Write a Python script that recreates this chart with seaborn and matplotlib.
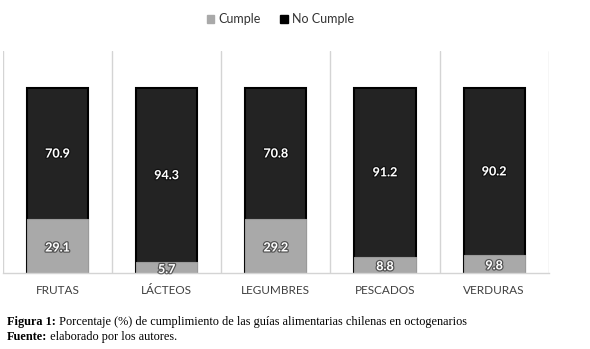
import numpy as np
import pandas as pd
import matplotlib.pyplot as plt
import matplotlib.patheffects as pe
from matplotlib.patches import Patch
import seaborn as sns

# --------------data--------------
categorias = ['FRUTAS', 'LÁCTEOS', 'LEGUMBRES', 'PESCADOS', 'VERDURAS']
cumple = [29.1, 5.7, 29.2, 8.8, 9.8]
no_cumple = [70.9, 94.3, 70.8, 91.2, 90.2]

df = pd.DataFrame({'categoria': categorias, 'cumple': cumple, 'no_cumple': no_cumple})
df['total'] = df['cumple'] + df['no_cumple']

gris = '#a9a9a9'
negro = '#232323'

sns.set_style('white')
plt.rcParams['font.family'] = ['Lato', 'DejaVu Sans']
fig = plt.figure(figsize=(5.9, 3.49), dpi=100)
ax = fig.add_axes([0.005, 0.218, 0.925, 0.636])

# stacked bars: total in black, cumple in grey on top of it
sns.barplot(x='categoria', y='total', data=df, color=negro, width=0.56,
            edgecolor='black', linewidth=1.5, saturation=1, ax=ax)
sns.barplot(x='categoria', y='cumple', data=df, color=gris, width=0.56,
            edgecolor='#9a9a9a', linewidth=0.8, saturation=1, ax=ax)

ax.set_ylim(0, 120)
ax.set_xlim(-0.5, len(categorias) - 0.5)
ax.set_yticks([])
ax.set_xlabel('')
ax.set_ylabel('')
for s in ['top', 'left', 'right']:
    ax.spines[s].set_visible(False)
ax.spines['bottom'].set_color('#d4d4d4')
ax.spines['bottom'].set_linewidth(1)

# category separators
for xpos in np.arange(-0.5, len(categorias), 1):
    ax.axvline(xpos, color='#d4d4d4', lw=1, zorder=0)

ax.tick_params(axis='x', length=0, pad=9)
ax.set_xticks(range(len(categorias)))
ax.set_xticklabels(categorias, fontsize=8.5, color='#404040')

# value labels
glow = [pe.withStroke(linewidth=1.8, foreground='black', alpha=0.5)]
for i, row in df.iterrows():
    ax.text(i, row['cumple'] / 2 - 0.8, f"{row['cumple']:.1f}", ha='center', va='center',
            color='white', fontsize=9, fontweight='bold', path_effects=glow)
    ax.text(i, row['cumple'] + row['no_cumple'] / 2, f"{row['no_cumple']:.1f}",
            ha='center', va='center', color='white', fontsize=9, fontweight='bold',
            path_effects=glow)

handles = [Patch(facecolor=gris, edgecolor=gris, label='Cumple'),
           Patch(facecolor='black', edgecolor='black', label='No Cumple')]
fig.legend(handles=handles, loc='center', bbox_to_anchor=(0.475, 0.945), ncol=2,
           frameon=False, fontsize=9, handlelength=0.6, handleheight=0.6,
           handletextpad=0.3, columnspacing=1.6, labelcolor='#333333')

# caption (bold lead-in followed by regular text)
fig.canvas.draw()
renderer = fig.canvas.get_renderer()
for y, bold, rest in [(0.068, 'Figura 1:', ' Porcentaje (%) de cumplimiento de las guías alimentarias chilenas en octogenarios'),
                      (0.027, 'Fuente:', ' elaborado por los autores.')]:
    t = fig.text(0.012, y, bold, fontsize=8.8, fontweight='bold', family='Liberation Serif',
                 va='baseline', color='black')
    bb = t.get_window_extent(renderer)
    x2 = (bb.x1) / fig.bbox.width
    fig.text(x2, y, rest, fontsize=8.8, family='Liberation Serif', va='baseline', color='black')

fig.savefig('out.png', dpi=100)
